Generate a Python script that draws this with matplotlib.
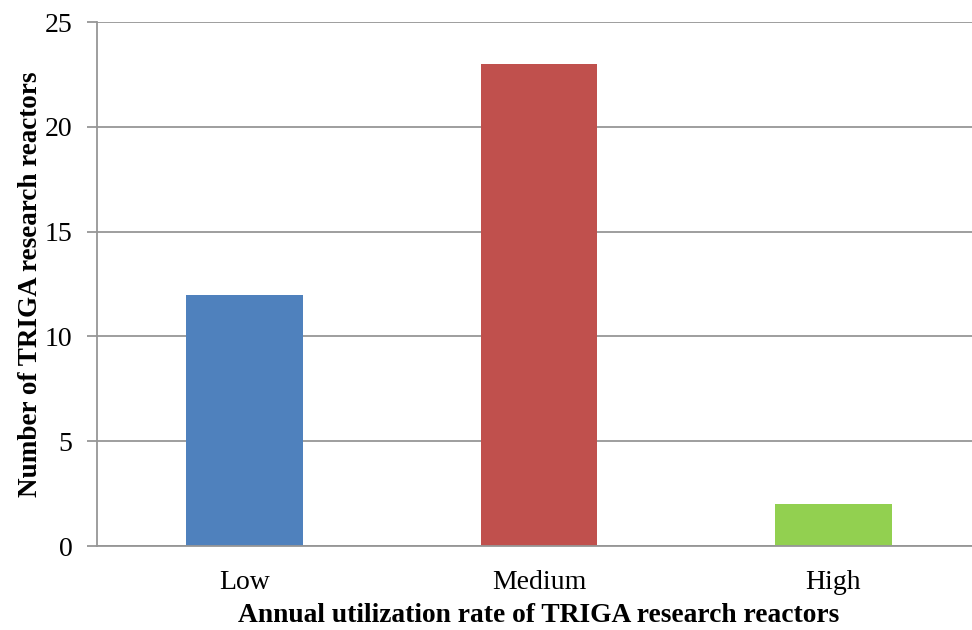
import matplotlib
matplotlib.use("Agg")
import matplotlib.pyplot as plt

categories = ["Low", "Medium", "High"]
reactor_counts = [12, 23, 2]
bar_colors = ["#4F81BD", "#C0504D", "#92D050"]

plt.rcParams["font.family"] = ["Liberation Serif", "DejaVu Serif"]

fig = plt.figure(figsize=(9.72, 6.3), dpi=100)
# the plot area runs a little past the right edge of the picture
ax = fig.add_axes([0.1003, 0.1333, 0.9084, 0.8317])

positions = range(len(categories))
ax.bar(positions, reactor_counts, width=0.397, color=bar_colors, zorder=3)

ax.set_xlim(-0.5, 2.5)
ax.set_ylim(0, 25)
ax.set_yticks([0, 5, 10, 15, 20, 25])
ax.set_xticks(list(positions))
ax.set_xticklabels(categories)
ax.grid(axis="y", color="#969696", linewidth=1.3, zorder=0)

for side in ("top", "right"):
    ax.spines[side].set_visible(False)
for side in ("left", "bottom"):
    ax.spines[side].set_color("#969696")
    ax.spines[side].set_linewidth(1.3)
ax.spines["bottom"].set_zorder(4)

ax.tick_params(axis="y", length=7, width=1.3, color="#969696", labelsize=20, pad=11)
ax.tick_params(axis="x", length=0, labelsize=20, pad=17)

ax.set_xlabel("Annual utilization rate of TRIGA research reactors", fontsize=19.8, fontweight="bold", labelpad=6)
ax.set_ylabel("Number of TRIGA research reactors", fontsize=19.5, fontweight="bold", labelpad=1)

fig.savefig("out.png", dpi=100)
